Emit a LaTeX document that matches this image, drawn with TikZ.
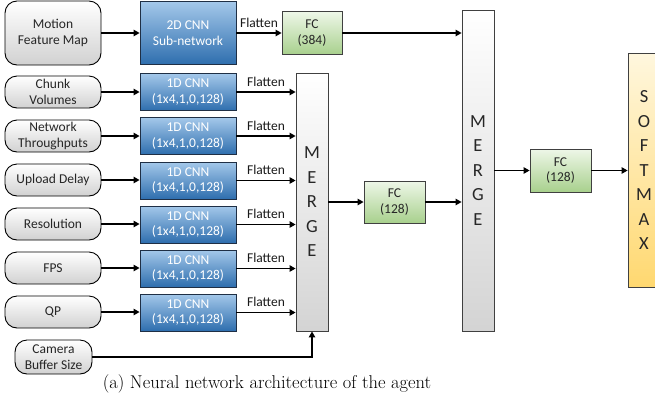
\documentclass[tikz,border=0pt]{standalone}
\usepackage{fontspec}
\setsansfont{Carlito}
\usetikzlibrary{arrows.meta,shadings}
\definecolor{bluetop}{HTML}{A4C8EA}
\definecolor{bluebot}{HTML}{2E6EAE}
\definecolor{blueline}{HTML}{1F2F45}
\definecolor{greentop}{HTML}{EEF7E8}
\definecolor{greenbot}{HTML}{A8D08D}
\definecolor{greyline}{HTML}{404040}
\definecolor{softtop}{HTML}{FFF7DE}
\definecolor{softbot}{HTML}{FFD870}
\tikzset{
  base/.style={font=\sffamily\fontsize{13.5}{15.5}\selectfont, align=center, inner sep=0pt, line width=0.9pt},
  inbox/.style={base, draw=black, rounded corners=12pt, top color=white, bottom color=black!18, minimum width=96pt, minimum height=32pt, text=black!85},
  cnnbox/.style={base, draw=blueline, top color=bluetop, bottom color=bluebot, text=white, minimum width=96pt, minimum height=37pt},
  fcbox/.style={base, draw=greyline, top color=greentop, bottom color=greenbot, minimum width=60pt, minimum height=43pt, text=black!85},
  mergebox/.style={base, draw=greyline, top color=white, bottom color=black!17, minimum width=32pt, font=\sffamily\fontsize{18.5}{24.5}\selectfont, text=black!85},
  softbox/.style={base, draw=greyline, top color=softtop, bottom color=softbot, minimum width=32pt, font=\sffamily\fontsize{18.5}{24.5}\selectfont, text=black!85},
  arr/.style={line width=1.1pt, -{Triangle[length=6pt,width=6.5pt]}},
  flat/.style={font=\sffamily\fontsize{13.5}{15.5}\selectfont, inner sep=0pt, text=black!90}
}
\begin{document}
\begin{tikzpicture}[x=1pt,y=-1pt]
\useasboundingbox (0,0) rectangle (655,418);
\begin{scope}
\clip (0,0) rectangle (655,418);
% input boxes
\node[inbox, minimum height=64pt] (mfm) at (53,33) {Motion\\Feature Map};
\node[inbox] (cv) at (53,92) {Chunk\\Volumes};
\node[inbox] (nt) at (53,136) {Network\\Throughputs};
\node[inbox] (ud) at (53,180) {Upload Delay};
\node[inbox] (res) at (53,224) {Resolution};
\node[inbox] (fps) at (53,268) {FPS};
\node[inbox] (qp) at (53,312) {QP};
\node[inbox, minimum width=77pt, minimum height=34pt] (cam) at (53.5,357) {Camera\\Buffer Size};
% CNN boxes
\node[cnnbox, minimum height=63pt] (c2d) at (188,33) {2D CNN\\Sub-network};
\node[cnnbox] (c1) at (188,92) {1D CNN\\(1x4,1,0,128)};
\node[cnnbox] (c2) at (188,136) {1D CNN\\(1x4,1,0,128)};
\node[cnnbox] (c3) at (188,180.5) {1D CNN\\(1x4,1,0,128)};
\node[cnnbox] (c4) at (188,224.5) {1D CNN\\(1x4,1,0,128)};
\node[cnnbox] (c5) at (188,268.5) {1D CNN\\(1x4,1,0,128)};
\node[cnnbox] (c6) at (188,312.5) {1D CNN\\(1x4,1,0,128)};
% FC and merges
\node[fcbox] (fc384) at (312,33) {FC\\(384)};
\node[mergebox, minimum height=258pt] (m1) at (312,202) {M\\E\\R\\G\\E};
\node[fcbox, minimum width=61pt, minimum height=42pt] (fc1) at (394.5,202) {FC\\(128)};
\node[mergebox, minimum height=321pt] (m2) at (478,170.5) {M\\E\\R\\G\\E};
\node[fcbox, minimum width=61pt] (fc2) at (560.5,170.5) {FC\\(128)};
\node[softbox, minimum height=234pt] (sm) at (644,170) {S\\O\\F\\T\\M\\A\\X};
% arrows inputs -> cnn
\draw[arr] (mfm.east) -- (mfm.east -| c2d.west);
\foreach \a/\b in {cv/c1,nt/c2,ud/c3,res/c4,fps/c5,qp/c6}{
  \draw[arr] (\a.east) -- (\a.east -| \b.west);
}
% flatten arrows
\draw[arr] (c2d.east) -- (c2d.east -| fc384.west) node[flat, midway, above=5pt] (fl0) {Flatten};
\foreach \b in {c1,c2,c3,c4,c5,c6}{
  \draw[arr] (\b.east) -- (\b.east -| m1.west) node[flat, midway, above=5pt] {Flatten};
}
\draw[arr] (cam.east) -| (m1.south);
\draw[arr] (fc384.east) -- (fc384.east -| m2.west);
\draw[arr] (m1.east) -- (fc1.west);
\draw[arr] (fc1.east) -- (fc1.east -| m2.west);
\draw[arr] (m2.east |- fc2.west) -- (fc2.west);
\draw[arr] (fc2.east) -- (fc2.east -| sm.west);
\end{scope}
\node[font=\fontsize{18.5}{22}\selectfont, inner sep=0pt] (cap) at (267,384) {(a) Neural network architecture of the agent};
\end{tikzpicture}
\end{document}
